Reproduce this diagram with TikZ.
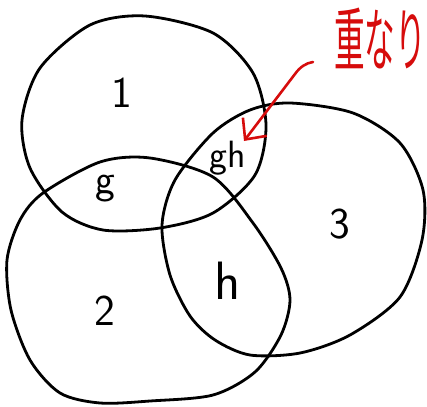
\documentclass[tikz,border=0pt]{standalone}
\usepackage{fontspec}
\usepackage{graphicx}
\newfontfamily\jpfont{Noto Sans CJK JP}
\usetikzlibrary{arrows.meta}
\definecolor{penred}{RGB}{214,12,12}
\begin{document}
\begin{tikzpicture}[x=1pt,y=-1pt,
  ink/.style={line width=2.8pt, line cap=round, line join=round},
  lbl/.style={font=\sffamily\fontsize{44}{44}\selectfont, inner sep=0pt},
  small/.style={font=\sffamily\fontsize{42}{42}\selectfont, inner sep=0pt},
  redarrow/.style={penred, line width=2.6pt, line cap=round, line join=round,
    -{Straight Barb[length=16pt, width=30pt, line width=2.6pt]}}]
\useasboundingbox (0,0) rectangle (427,406);
% set 1
\draw[ink] plot[smooth cycle] coordinates {(145,16) (213,33) (253,73) (266,125) (255,175) (213,213) (160,228) (103,230) (62,212) (30,168) (22,120) (40,68) (90,25)};
% set 2
\draw[ink] plot[smooth cycle] coordinates {(43,193) (100,162) (150,158) (213,177) (253,223) (281,268) (290,300) (281,335) (255,372) (213,395) (150,401) (100,403) (60,393) (30,360) (11,310) (7,260) (20,220)};
% set 3
\draw[ink] plot[smooth cycle] coordinates {(290,103) (353,113) (400,143) (423,190) (422,240) (400,297) (350,335) (300,353) (250,355) (215,340) (190,316) (170,275) (162,225) (175,180) (213,133) (250,110)};
% labels
\node[lbl] (one) at (122,93) {1};
\node[lbl] (two) at (105,311) {2};
\node[lbl] (three) at (340,224) {3};
\node[small] (g) at (105,189) {g};
\node[small, font=\sffamily\fontsize{54}{54}\selectfont] (h) at (228,281) {h};
\node[small, font=\sffamily\fontsize{38}{38}\selectfont] (gh) at (228,158) {gh};
\node[penred, font=\jpfont\fontsize{30}{30}\selectfont, inner sep=0pt] (note) at (380,38) {\scalebox{1.02}[2.3]{重なり}};
% arrow
\coordinate (as) at (313,62);
\coordinate (ae) at (244,141);
\draw[redarrow] (as) .. controls (306,63) and (300,67) .. (295,74) -- (ae);
\end{tikzpicture}
\end{document}
